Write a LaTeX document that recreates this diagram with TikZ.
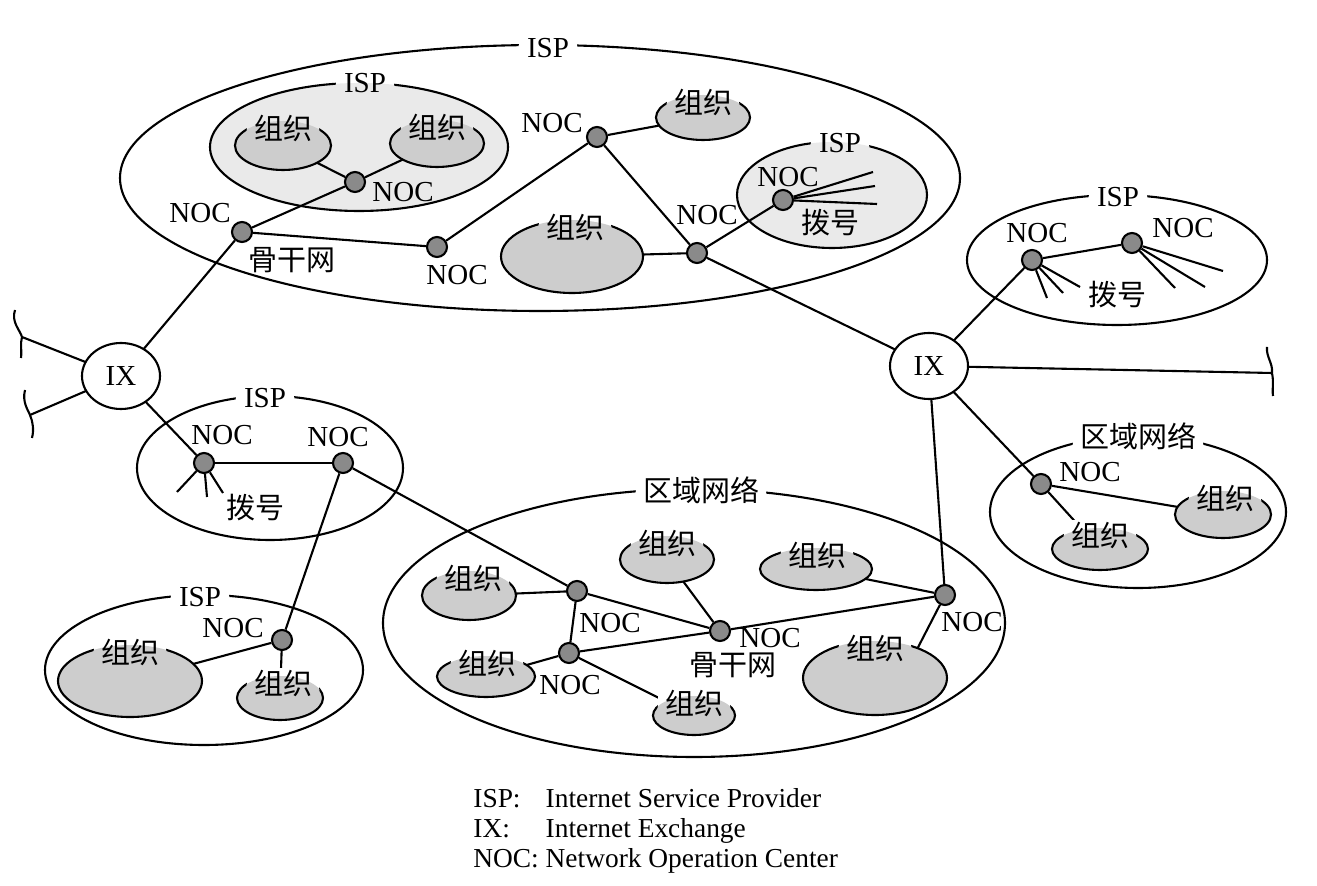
\documentclass[tikz,border=0pt]{standalone}
\usepackage{fontspec}
\setmainfont{Liberation Serif}
\newfontfamily\cjk{Noto Sans CJK SC}
\usetikzlibrary{shapes.geometric,calc}
\definecolor{ispgray}{HTML}{EAEAEA}
\definecolor{orggray}{HTML}{CDCDCD}
\definecolor{nocgray}{HTML}{8A8A8A}
\tikzset{
 ln/.style={line width=1.05pt},
 shell/.style={ellipse, draw, line width=1.05pt, inner sep=0pt, outer sep=0pt},
 ispw/.style={shell, fill=white},
 ispg/.style={shell, fill=ispgray},
 orgn/.style={shell, fill=orggray},
 nocn/.style={circle, draw, line width=1.05pt, fill=nocgray, minimum size=10pt, inner sep=0pt},
 ixn/.style={shell, fill=white, minimum width=39pt, minimum height=33pt, font=\fontsize{14.5}{17}\selectfont},
 ten/.style={font=\fontsize{14.5}{17}\selectfont, inner sep=1pt},
 tzh/.style={font=\cjk\fontsize{14.5}{17}\selectfont, inner sep=1pt},
 lben/.style={ten, inner xsep=4pt},
 lbzh/.style={tzh, inner xsep=3.5pt},
}
% #1 ellipse node, #2 position, #3 style, #4 text, #5 outside colour, #6 inside colour, #7 rx, #8 ry
\newcommand\ellab[8]{%
  \node[#3, fill=#5] (#1-lab) at #2 {\phantom{#4}};
  \begin{scope}
    \clip (#1-lab.south west) rectangle (#1-lab.north east);
    \fill[#6] (#1.center) ellipse [x radius=#7, y radius=#8];
  \end{scope}
  \node[#3] (#1-txt) at (#1-lab.center) {#4};}
\begin{document}
\begin{tikzpicture}[x=0.5pt,y=-0.5pt]
\useasboundingbox (0,0) rectangle (1317,886);
\fill[white] (0,0) rectangle (1317,886);

% ---------- ISP / regional ellipses
\node[ispw, minimum width=420pt, minimum height=133pt] (ispT) at (540,178) {};
\node[ispg, minimum width=149pt, minimum height=64pt] (ispI) at (359,147) {};
\node[ispg, minimum width=95pt, minimum height=53pt] (ispD) at (832,195) {};
\node[ispw, minimum width=150pt, minimum height=65pt] (ispR) at (1117,260) {};
\node[ispw, minimum width=148pt, minimum height=76pt] (regR) at (1138,512) {};
\node[ispw, minimum width=133pt, minimum height=72pt] (ispM) at (270,468) {};
\node[ispw, minimum width=159pt, minimum height=75pt] (ispL) at (204,670) {};
\node[ispw, minimum width=311pt, minimum height=134pt] (regC) at (694,623) {};

% ---------- organisations
\node[orgn, minimum width=48pt, minimum height=24.5pt] (o1) at (283,145.5) {};
\node[orgn, minimum width=47pt, minimum height=23.5pt] (o2) at (437,143.5) {};
\node[orgn, minimum width=47pt, minimum height=22.5pt] (o3) at (703,117.5) {};
\node[orgn, minimum width=71pt, minimum height=36.5pt] (o4) at (572,256.5) {};
\node[orgn, minimum width=72pt, minimum height=36pt] (oL1) at (130,681) {};
\node[orgn, minimum width=43pt, minimum height=22pt] (oL2) at (280,698) {};
\node[orgn, minimum width=47pt, minimum height=24.5pt] (oR1) at (469,595.5) {};
\node[orgn, minimum width=49pt, minimum height=20.5pt] (oR2) at (486,676.5) {};
\node[orgn, minimum width=41pt, minimum height=19.5pt] (oR3) at (694,715.5) {};
\node[orgn, minimum width=47pt, minimum height=23.5pt] (oR4) at (667,559.5) {};
\node[orgn, minimum width=56pt, minimum height=21pt] (oR5) at (816,569) {};
\node[orgn, minimum width=72pt, minimum height=37pt] (oR6) at (875,678) {};
\node[orgn, minimum width=48pt, minimum height=21pt] (oA) at (1100,549) {};
\node[orgn, minimum width=48pt, minimum height=23.5pt] (oB) at (1223,514.5) {};

% ---------- exchanges
\node[ixn] (ixL) at (121,376) {IX};
\node[ixn] (ixR) at (929,366) {IX};

% ---------- NOCs
\node[nocn] (nB) at (242,232) {};
\node[nocn] (nI) at (355,182) {};
\node[nocn] (nC) at (437,247) {};
\node[nocn] (nD) at (597,137) {};
\node[nocn] (nE) at (697,253) {};
\node[nocn] (nF) at (783,200) {};
\node[nocn] (nG) at (1032,260) {};
\node[nocn] (nH) at (1132,243) {};
\node[nocn] (nJ) at (1041,484) {};
\node[nocn] (nK) at (945,595) {};
\node[nocn] (nM1) at (204,463) {};
\node[nocn] (nM2) at (343,463) {};
\node[nocn] (nL) at (282,640) {};
\node[nocn] (nRA) at (577,591) {};
\node[nocn] (nRB) at (569,653) {};
\node[nocn] (nRC) at (720,631) {};

% ---------- free ends
\coordinate (cUL) at (22,337);
\coordinate (cLL) at (30,415);
\coordinate (cR) at (1272,373);
\coordinate (dF1) at (873,172);
\coordinate (dF2) at (875,186);
\coordinate (dF3) at (877,204);
\coordinate (dG1) at (1080,287);
\coordinate (dG2) at (1063,293);
\coordinate (dG3) at (1047,298);
\coordinate (dH1) at (1223,271);
\coordinate (dH2) at (1205,287);
\coordinate (dH3) at (1175,288);
\coordinate (dM1) at (177,492);
\coordinate (dM2) at (207,497);
\coordinate (dM3) at (223,493);

% ---------- connectors
\draw[ln] (ixL) -- (cUL);
\draw[ln] (ixL) -- (cLL);
\draw[ln] (ixL) -- (nB);
\draw[ln] (ixL) -- (nM1);
\draw[ln] (nB) -- (nI);
\draw[ln] (nI) -- (o1);
\draw[ln] (nI) -- (o2);
\draw[ln] (nB) -- (nC);
\draw[ln] (nC) -- (nD);
\draw[ln] (nD) -- (o3);
\draw[ln] (nD) -- (nE);
\draw[ln] (o4) -- (nE);
\draw[ln] (nE) -- (nF);
\draw[ln] (nF) -- (dF1);
\draw[ln] (nF) -- (dF2);
\draw[ln] (nF) -- (dF3);
\draw[ln] (nE) -- (ixR);
\draw[ln] (ixR) -- (nG);
\draw[ln] (nG) -- (nH);
\draw[ln] (nG) -- (dG1);
\draw[ln] (nG) -- (dG2);
\draw[ln] (nG) -- (dG3);
\draw[ln] (nH) -- (dH1);
\draw[ln] (nH) -- (dH2);
\draw[ln] (nH) -- (dH3);
\draw[ln] (ixR) -- (cR);
\draw[ln] (ixR) -- (nJ);
\draw[ln] (nJ) -- (oA);
\draw[ln] (nJ) -- (oB);
\draw[ln] (ixR) -- (nK);
\draw[ln] (nM1) -- (nM2);
\draw[ln] (nM1) -- (dM1);
\draw[ln] (nM1) -- (dM2);
\draw[ln] (nM1) -- (dM3);
\draw[ln] (nM2) -- (nL);
\draw[ln] (nL) -- (oL1);
\draw[ln] (nL) -- (oL2);
\draw[ln] (nM2) -- (nRA);
\draw[ln] (nRA) -- (oR1);
\draw[ln] (nRA) -- (nRB);
\draw[ln] (nRA) -- (nRC);
\draw[ln] (nRB) -- (nRC);
\draw[ln] (nRB) -- (oR2);
\draw[ln] (nRB) -- (oR3);
\draw[ln] (oR4) -- (nRC);
\draw[ln] (nRC) -- (nK);
\draw[ln] (oR5) -- (nK);
\draw[ln] (nK) -- (oR6.35);

% ---------- open ends (curls)
\draw[ln] (15,310) .. controls (11,322) and (20,330) .. (cUL) .. controls (20,344) and (22,350) .. (21,358);
\draw[ln] (25,390) .. controls (22,402) and (28,410) .. (cLL) .. controls (33,422) and (34,430) .. (32,438);
\draw[ln] (1267,347) .. controls (1266,357) and (1273,363) .. (cR) .. controls (1274,383) and (1272,388) .. (1273,396);

% ---------- labels on outlines
\ellab{ispT}{(548,48)}{lben}{ISP}{white}{white}{420}{133}
\ellab{ispI}{(365,83)}{lben}{ISP}{white}{ispgray}{149}{64}
\ellab{ispD}{(840,143)}{lben}{ISP}{white}{ispgray}{95}{53}
\ellab{ispR}{(1118,197)}{lben}{ISP}{white}{white}{150}{65}
\ellab{regR}{(1138,436)}{lbzh}{区域网络}{white}{white}{148}{76}
\ellab{ispM}{(265,398)}{lben}{ISP}{white}{white}{133}{72}
\ellab{ispL}{(200,597)}{lben}{ISP}{white}{white}{159}{75}
\ellab{regC}{(701,490)}{lbzh}{区域网络}{white}{white}{311}{134}

\ellab{o1}{(283,128)}{lbzh}{组织}{ispgray}{orggray}{48}{24.5}
\ellab{o2}{(437,127)}{lbzh}{组织}{ispgray}{orggray}{47}{23.5}
\ellab{o3}{(703,102)}{lbzh}{组织}{white}{orggray}{47}{22.5}
\ellab{o4}{(575,227)}{lbzh}{组织}{white}{orggray}{71}{36.5}
\ellab{oL1}{(130,652)}{lbzh}{组织}{white}{orggray}{72}{36}
\ellab{oL2}{(283,683)}{lbzh}{组织}{white}{orggray}{43}{22}
\ellab{oR1}{(473,578)}{lbzh}{组织}{white}{orggray}{47}{24.5}
\ellab{oR2}{(487,663)}{lbzh}{组织}{white}{orggray}{49}{20.5}
\ellab{oR3}{(694,703)}{lbzh}{组织}{white}{orggray}{41}{19.5}
\ellab{oR4}{(667,543)}{lbzh}{组织}{white}{orggray}{47}{23.5}
\ellab{oR5}{(817,555)}{lbzh}{组织}{white}{orggray}{56}{21}
\ellab{oR6}{(875,648)}{lbzh}{组织}{white}{orggray}{72}{37}
\ellab{oA}{(1100,535)}{lbzh}{组织}{white}{orggray}{48}{21}
\ellab{oB}{(1225,498)}{lbzh}{组织}{white}{orggray}{48}{23.5}

% ---------- NOC labels
\node[ten] (tB) at (200,213) {NOC};
\node[ten] (tI) at (403,192) {NOC};
\node[ten] (tC) at (457,275) {NOC};
\node[ten] (tD) at (552,123) {NOC};
\node[ten] (tE) at (707,215) {NOC};
\node[ten] (tF) at (788,177) {NOC};
\node[ten] (tG) at (1037,233) {NOC};
\node[ten] (tH) at (1183,228) {NOC};
\node[ten] (tJ) at (1090,472) {NOC};
\node[ten] (tM1) at (222,435) {NOC};
\node[ten] (tM2) at (338,437) {NOC};
\node[ten] (tL) at (233,628) {NOC};
\node[ten] (tRA) at (610,623) {NOC};
\node[ten] (tRB) at (570,685) {NOC};
\node[ten] (tRC) at (770,638) {NOC};
\node[ten] (tK) at (972,622) {NOC};

% ---------- other labels
\node[tzh] (bF) at (830,223) {拨号};
\node[tzh] (bG) at (1117,295) {拨号};
\node[tzh] (bM) at (255,508) {拨号};
\node[tzh] (gT) at (292,260) {骨干网};
\node[tzh] (gC) at (733,665) {骨干网};

% ---------- legend
\node[anchor=west, inner sep=0pt, font=\fontsize{13.7}{15}\selectfont] (legend) at (473,831)
  {\begin{tabular}{@{}l@{\ }l@{}}ISP: & Internet Service Provider\\ IX: & Internet Exchange\\ NOC: & Network Operation Center\end{tabular}};
\end{tikzpicture}
\end{document}
